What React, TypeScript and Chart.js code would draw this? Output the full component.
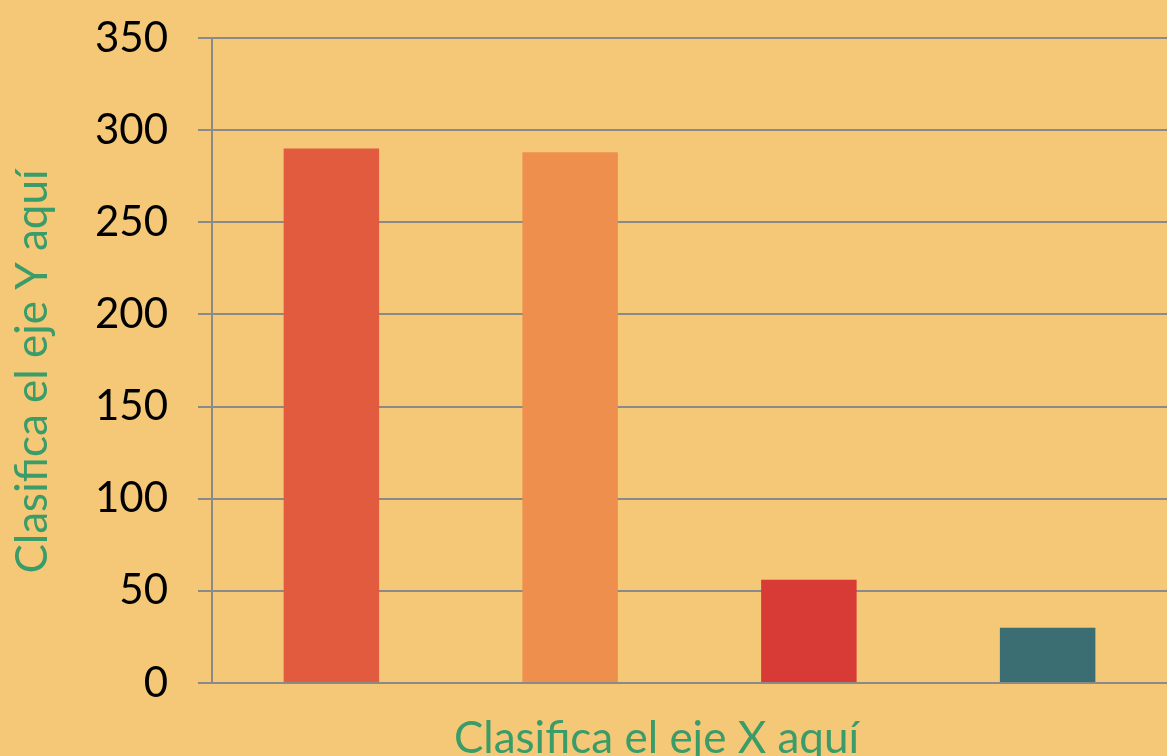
import React, { useEffect, useRef } from "react";
import { Chart, registerables } from "chart.js";

Chart.register(...registerables);

const categories = ["Categoría 1", "Categoría 2", "Categoría 3", "Categoría 4"];
const values = [290, 288, 56, 30];
const barColors = ["#E25B3F", "#EE8F4D", "#D83A35", "#3A6E72"];
const yTicks = [0, 50, 100, 150, 200, 250, 300, 350];
const xTitle = "Clasifica el eje X aquí";
const yTitle = "Clasifica el eje Y aquí";

const BG = "#F5C878";
const GRID = "#8A8A8A";
const GREEN = "#3A9C68";
const FONT = "Lato, 'Open Sans', sans-serif";

export default function App() {
  const ref = useRef<HTMLCanvasElement | null>(null);

  useEffect(() => {
    document.body.style.margin = "0";
    const canvas = ref.current;
    if (!canvas) return;
    const bgPlugin = {
      id: "bg",
      beforeDraw(chart: any) {
        const { ctx, width, height } = chart;
        ctx.save();
        ctx.fillStyle = BG;
        ctx.fillRect(0, 0, width, height);
        ctx.restore();
      },
    };
    const titlesPlugin = {
      id: "axisTitles",
      afterDraw(chart: any) {
        const { ctx, chartArea, height } = chart;
        ctx.save();
        ctx.fillStyle = GREEN;
        ctx.font = `44px ${FONT}`;
        ctx.textAlign = "center";
        ctx.textBaseline = "alphabetic";
        const cx = (chartArea.left + chartArea.right) / 2 - 33;
        ctx.fillText(xTitle, cx, height - 3);
        const cy = (chartArea.top + chartArea.bottom) / 2 + 11;
        ctx.translate(33, cy);
        ctx.rotate(-Math.PI / 2);
        ctx.textBaseline = "middle";
        ctx.fillText(yTitle, 0, 0);
        ctx.restore();
      },
    };
    const chart = new Chart(canvas, {
      type: "bar",
      data: {
        labels: categories,
        datasets: [
          {
            data: values,
            backgroundColor: barColors,
            borderWidth: 0,
            categoryPercentage: 1,
            barPercentage: 0.4,
          },
        ],
      },
      options: {
        animation: false,
        responsive: false,
        layout: { padding: { top: 38, right: 0, bottom: 0, left: 0 } },
        plugins: { legend: { display: false }, tooltip: { enabled: false } },
        scales: {
          x: {
            grid: { display: false },
            border: { display: false },
            ticks: { display: false },
            title: { display: false },
            afterFit(scale: any) {
              scale.height = 73;
            },
          },
          y: {
            min: 0,
            max: 350,
            afterBuildTicks(scale: any) {
              scale.ticks = yTicks.map((v) => ({ value: v }));
            },
            grid: {
              color: GRID,
              lineWidth: 2,
              tickLength: 14,
              drawTicks: true,
            },
            border: { display: true, color: GRID, width: 2 },
            ticks: {
              color: "#000000",
              padding: 30,
              font: { family: FONT, size: 42 },
            },
            title: { display: false },
            afterFit(scale: any) {
              scale.width = 212;
              scale.paddingTop = 0;
              scale.paddingBottom = 0;
            },
          },
        },
      },
      plugins: [bgPlugin, titlesPlugin],
    });
    return () => chart.destroy();
  }, []);

  return (
    <div style={{ position: "absolute", left: 0, top: 0, width: 1167, height: 756, background: BG }}>
      <canvas ref={ref} width={1167} height={756} style={{ display: "block" }} />
    </div>
  );
}
